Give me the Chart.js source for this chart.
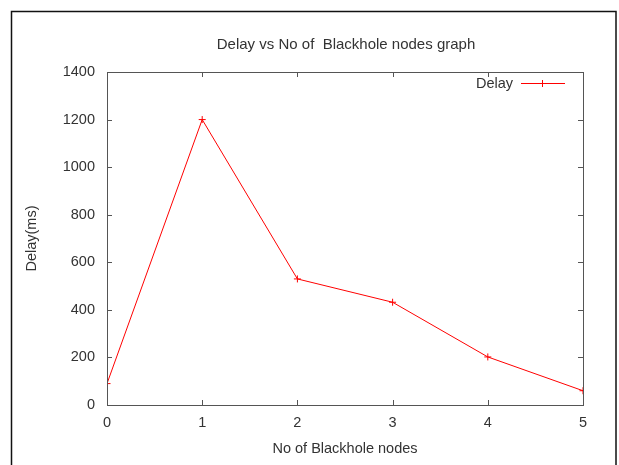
<!DOCTYPE html>
<html>
<head>
<meta charset="utf-8">
<script src="https://cdn.jsdelivr.net/npm/chart.js@4"></script>
<style>
  html, body { margin: 0; padding: 0; background: #fff; }
  #wrap { width: 619px; height: 465px; }
</style>
</head>
<body>
<div id="wrap"><canvas id="chart" width="619" height="465"></canvas></div>
<script>
// data
const nodes = [0, 1, 2, 3, 4, 5];
const delay = [90, 1200, 530, 432, 202, 60];
const yTicks = [0, 200, 400, 600, 800, 1000, 1200, 1400];
const chartTitle = "Delay vs No of  Blackhole nodes graph";

const FONT = "'Liberation Sans', Arial, sans-serif";
const FS = 14.5;
const TXT = "#333";

// gnuplot-like frame, title over the plot, plot border, inward ticks and legend
const gnuplotLook = {
    id: "gnuplotLook",
    afterDraw(chart) {
        const ctx = chart.ctx;
        const a = chart.chartArea;
        const xs = chart.scales.x, ys = chart.scales.y;
        ctx.save();

        // outer frame (bottom cut off in the picture)
        ctx.strokeStyle = "#111";
        ctx.lineWidth = 1.5;
        ctx.beginPath();
        ctx.moveTo(11.5, 470);
        ctx.lineTo(11.5, 11.5);
        ctx.lineTo(616, 11.5);
        ctx.lineTo(616, 470);
        ctx.stroke();

        // title, centred on the plot area like gnuplot
        ctx.fillStyle = TXT;
        ctx.font = (FS + 0.5) + "px " + FONT;
        ctx.textAlign = "center";
        ctx.textBaseline = "middle";
        ctx.fillText(chartTitle, (a.left + a.right) / 2 + 1, 45);

        // plot border
        ctx.strokeStyle = "#555";
        ctx.lineWidth = 1;
        ctx.strokeRect(Math.round(a.left) + 0.5, Math.round(a.top) + 0.5,
            Math.round(a.right - a.left), Math.round(a.bottom - a.top));

        // inward ticks on all sides
        const len = 5;
        ctx.beginPath();
        xs.ticks.forEach(t => {
            const px = Math.round(xs.getPixelForValue(t.value)) + 0.5;
            ctx.moveTo(px, a.bottom); ctx.lineTo(px, a.bottom - len);
            ctx.moveTo(px, a.top); ctx.lineTo(px, a.top + len);
        });
        ys.ticks.forEach(t => {
            const py = Math.round(ys.getPixelForValue(t.value)) + 0.5;
            ctx.moveTo(a.left, py); ctx.lineTo(a.left + len, py);
            ctx.moveTo(a.right, py); ctx.lineTo(a.right - len, py);
        });
        ctx.stroke();

        // legend: label then sample line with a cross
        const ds = chart.data.datasets[0];
        const ly = a.top + 11.5;
        ctx.font = FS + "px " + FONT;
        ctx.textAlign = "right";
        ctx.fillText(ds.label, a.right - 70, ly);
        ctx.strokeStyle = ds.borderColor;
        ctx.beginPath();
        ctx.moveTo(a.right - 62, ly); ctx.lineTo(a.right - 18, ly);
        ctx.moveTo(a.right - 40.5, ly - 3.5); ctx.lineTo(a.right - 40.5, ly + 3.5);
        ctx.stroke();

        ctx.restore();
    }
};

const ctx = document.getElementById("chart").getContext("2d");
new Chart(ctx, {
    type: "line",
    data: {
        datasets: [{
            label: "Delay",
            data: nodes.map((n, i) => ({ x: n, y: delay[i] })),
            borderColor: "#ff0000",
            backgroundColor: "#ff0000",
            borderWidth: 1,
            pointStyle: "cross",
            pointRadius: 3.5,
            pointBorderWidth: 1,
            tension: 0,
            fill: false
        }]
    },
    options: {
        responsive: false,
        animation: false,
        layout: { padding: { left: 19.3, right: 36, top: 72, bottom: 3.3 } },
        plugins: {
            legend: { display: false },
            tooltip: { enabled: false },
            title: { display: false }
        },
        scales: {
            x: {
                type: "linear",
                min: 0, max: 5,
                afterFit: s => { s.height = 56.7; },
                ticks: { stepSize: 1, padding: 9.3, color: TXT, font: { family: FONT, size: FS } },
                grid: { display: false, drawTicks: false },
                border: { display: false },
                title: { display: true, text: "No of Blackhole nodes", color: TXT,
                    font: { family: FONT, size: FS }, padding: { top: 4, bottom: 4 } }
            },
            y: {
                min: 0, max: 1400,
                afterFit: s => { s.width = 107 - 19.3; },
                afterBuildTicks: s => { s.ticks = yTicks.map(v => ({ value: v })); },
                ticks: { padding: 12, color: TXT, font: { family: FONT, size: FS },
                    callback: v => String(v) },
                grid: { display: false, drawTicks: false },
                border: { display: false },
                title: { display: true, text: "Delay(ms)", color: TXT,
                    font: { family: FONT, size: FS }, padding: { top: 4, bottom: 4 } }
            }
        }
    },
    plugins: [gnuplotLook]
});
</script>
</body>
</html>
